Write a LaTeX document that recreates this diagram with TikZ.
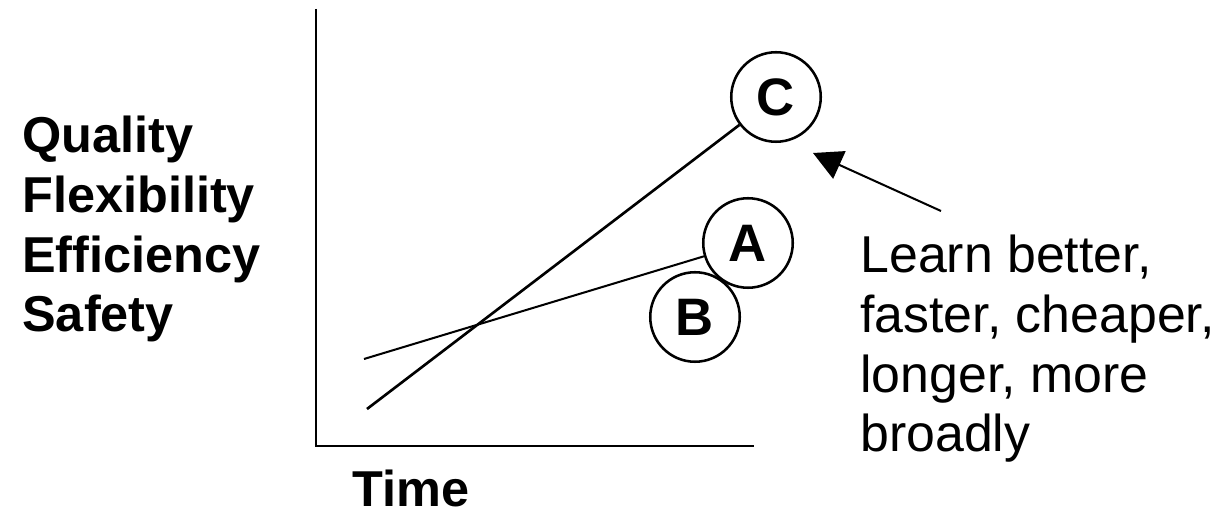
\documentclass[tikz,border=0pt]{standalone}
\usepackage{fontspec}
\setmainfont{Liberation Sans}
\usetikzlibrary{arrows.meta}

\begin{document}
\begin{tikzpicture}[x=0.2mm, y=-0.2mm,
    axis line/.style={line width=1.7pt},
    ball/.style={circle, draw, line width=1.45pt, minimum size=17.9mm, inner sep=0pt,
                 font=\fontsize{30}{34}\selectfont\bfseries},
    boldtxt/.style={inner sep=0pt, font=\fontsize{28.7}{34}\selectfont\bfseries},
    plaintxt/.style={inner sep=0pt, font=\fontsize{29.5}{34}\selectfont}]
        \useasboundingbox (0,0) rectangle (1228,515);
        \coordinate (ytop) at (316,9);
        \coordinate (origin) at (316,446);
        \coordinate (xend) at (754,446);
        \draw[axis line] (ytop) -- (origin) -- (xend);
        \node[ball] (C) at (776,97) {C};
        \node[ball] (A) at (748,243) {A};
        \node[ball] (B) at (695,317) {B};
        \coordinate (c0) at (367,409);
        \coordinate (a0) at (364,359);
        \draw[line width=1.5pt] (c0) -- (C);
        \draw[line width=1.15pt] (a0) -- (A);
        \coordinate (tail) at (941,211);
        \coordinate (tip) at (813,153);
        \draw[line width=1.15pt, -{Triangle[length=5.8mm, width=6mm]}] (tail) -- (tip);
        \node[boldtxt, anchor=base west, align=left] (ylab) at (22,332)
            {Quality\\Flexibility\\Efficiency\\Safety};
        \node[boldtxt, anchor=base west] (xlab) at (352,507) {Time};
        \node[plaintxt, anchor=base west, align=left] (note) at (860,452)
            {Learn better,\\faster, cheaper,\\longer, more\\broadly};
      \end{tikzpicture}
\end{document}
